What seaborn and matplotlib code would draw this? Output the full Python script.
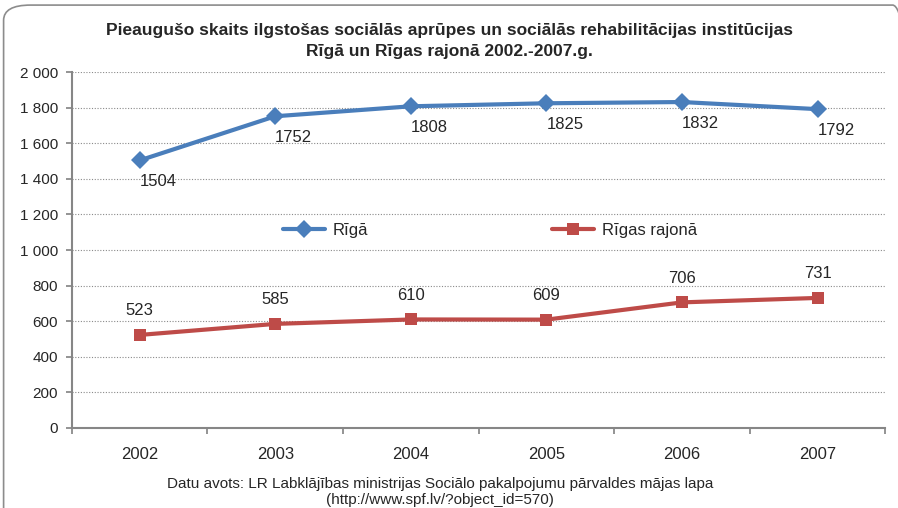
import matplotlib
matplotlib.use("Agg")
import matplotlib.pyplot as plt
import seaborn as sns
import pandas as pd
from matplotlib.patches import FancyBboxPatch
from matplotlib.ticker import FuncFormatter, FixedLocator

years = ["2002", "2003", "2004", "2005", "2006", "2007"]
riga = [1504, 1752, 1808, 1825, 1832, 1792]
rajons = [523, 585, 610, 609, 706, 731]
series_names = ["Rīgā", "Rīgas rajonā"]
title = "Pieaugušo skaits ilgstošas sociālās aprūpes un sociālās rehabilitācijas institūcijas\nRīgā un Rīgas rajonā 2002.-2007.g."
source = "Datu avots: LR Labklājības ministrijas Sociālo pakalpojumu pārvaldes mājas lapa\n(http://www.spf.lv/?object_id=570)"

sns.set_theme(style="white")
plt.rcParams['font.family'] = ['Liberation Sans Narrow', 'Liberation Sans', 'DejaVu Sans']

df = pd.DataFrame({
    "x": list(range(len(years))) * 2,
    "value": riga + rajons,
    "series": [series_names[0]] * len(years) + [series_names[1]] * len(years),
})

fig = plt.figure(figsize=(8.98, 5.08), dpi=100)
ax = fig.add_axes([0.080, 0.1575, 0.906, 0.7005])

# rounded border
fig.patches.append(FancyBboxPatch((0.004, -0.05), 1.02, 1.04, boxstyle="round,pad=0,rounding_size=0.03",
                                  transform=fig.transFigure, fill=False, edgecolor="#8c8c8c", linewidth=1.2))

palette = {series_names[0]: "#4A7EBB", series_names[1]: "#BE4B48"}
sns.lineplot(data=df, x="x", y="value", hue="series", style="series", palette=palette,
             markers={series_names[0]: "D", series_names[1]: "s"}, dashes=False,
             markersize=9, linewidth=3, markeredgewidth=0, ax=ax)

ax.set_xlim(-0.5, len(years) - 0.5)
ax.set_ylim(0, 2000)
ax.set_yticks(range(0, 2001, 200))
ax.yaxis.set_major_formatter(FuncFormatter(lambda v, p: f"{int(v):,}".replace(",", " ")))
ax.xaxis.set_major_locator(FixedLocator([i - 0.5 for i in range(len(years) + 1)]))
ax.set_xticklabels([])
ax.set_xticks(range(len(years)), minor=True)
ax.set_xticklabels(years, minor=True, fontsize=12)
ax.tick_params(axis="x", which="minor", length=0, pad=14)
ax.tick_params(axis="x", which="major", length=4, color="#868686", direction="out", bottom=True)
ax.tick_params(axis="y", length=4, color="#868686", direction="out", left=True, labelsize=11, pad=6)
ax.set_xlabel("")
ax.set_ylabel("")
ax.grid(axis="y", linestyle=(0, (1, 1.5)), color="#8a8a8a", linewidth=0.8)
ax.set_axisbelow(True)
for s in ["top", "right"]:
    ax.spines[s].set_visible(False)
for s in ["left", "bottom"]:
    ax.spines[s].set_color("#868686")
    ax.spines[s].set_linewidth(1.5)

for i, v in enumerate(riga):
    ax.annotate(str(v), (i, v), xytext=(0, -10), textcoords="offset points", ha="left", va="top", fontsize=12)
for i, v in enumerate(rajons):
    ax.annotate(str(v), (i, v), xytext=(0, 12), textcoords="offset points", ha="center", va="bottom", fontsize=12)

ax.legend(loc="center", bbox_to_anchor=(0.514, 0.556), ncol=2, frameon=False, fontsize=12,
          columnspacing=11, handlelength=2.5, handletextpad=0.5, title=None)

fig.text(0.5, 0.955, title, ha="center", va="top", fontsize=12.5, fontweight="bold", linespacing=1.5)
fig.text(0.49, 0.062, source, ha="center", va="top", fontsize=11, linespacing=1.2)

fig.savefig("out.png", dpi=100)
